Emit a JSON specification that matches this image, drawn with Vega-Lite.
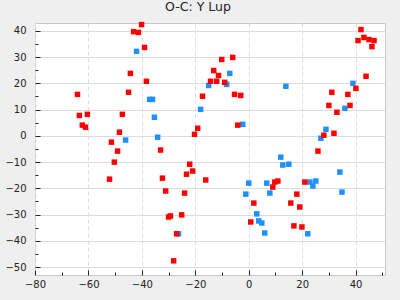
{
  "$schema": "https://vega.github.io/schema/vega-lite/v6.json",
  "width": 350,
  "height": 252,
  "autosize": "none",
  "padding": {"left": 35, "top": 23, "right": 15, "bottom": 25},
  "background": "#efefef",
  "title": {"text": "O-C: Y Lup", "font": "DejaVu Sans", "fontSize": 12.5, "fontWeight": "normal", "color": "#222222", "offset": 8, "dx": -12},
  "config": {
    "view": {"fill": "white", "stroke": "#c8c8c8", "strokeWidth": 1},
    "axis": {"labelFont": "DejaVu Sans", "labelFontSize": 10, "labelColor": "#222222", "tickColor": "#222222", "domain": false, "title": null, "labelFlush": false, "labelOverlap": false}
  },
  "data": {"values": [
    {"x": -42, "y": 32.2, "s": "b"}, {"x": -46.1, "y": -1.6, "s": "b"}, {"x": -37.1, "y": 13.9, "s": "b"}, {"x": -36, "y": 13.9, "s": "b"},
    {"x": -35.3, "y": 7.1, "s": "b"}, {"x": -34.1, "y": -0.5, "s": "b"}, {"x": -26.3, "y": -37.3, "s": "b"}, {"x": -18, "y": 10.1, "s": "b"},
    {"x": -15, "y": 19.2, "s": "b"}, {"x": -8.25, "y": 19.6, "s": "b"}, {"x": -7.1, "y": 23.8, "s": "b"}, {"x": -2.25, "y": 4.4, "s": "b"},
    {"x": -1.1, "y": -22.2, "s": "b"}, {"x": 0, "y": -18, "s": "b"}, {"x": 3, "y": -29.7, "s": "b"}, {"x": 3.75, "y": -32.4, "s": "b"},
    {"x": 4.9, "y": -33.2, "s": "b"}, {"x": 6, "y": -37, "s": "b"}, {"x": 6.75, "y": -18, "s": "b"}, {"x": 7.9, "y": -21.8, "s": "b"},
    {"x": 12, "y": -8.1, "s": "b"}, {"x": 12.75, "y": -11.1, "s": "b"}, {"x": 13.9, "y": 18.9, "s": "b"}, {"x": 15, "y": -10.8, "s": "b"},
    {"x": 22.1, "y": -37.3, "s": "b"}, {"x": 22.9, "y": -17.6, "s": "b"}, {"x": 24, "y": -19.1, "s": "b"}, {"x": 25.1, "y": -17.2, "s": "b"},
    {"x": 27, "y": -0.9, "s": "b"}, {"x": 28.9, "y": 2.5, "s": "b"}, {"x": 34.1, "y": -13.8, "s": "b"}, {"x": 34.9, "y": -21.4, "s": "b"},
    {"x": 36, "y": 10.5, "s": "b"}, {"x": 39, "y": 20, "s": "b"},
    {"x": -64.1, "y": 15.8, "s": "r"}, {"x": -63.4, "y": 7.8, "s": "r"}, {"x": -62.3, "y": 4.1, "s": "r"}, {"x": -61.1, "y": 3.3, "s": "r"},
    {"x": -60.4, "y": 8.2, "s": "r"}, {"x": -51.4, "y": -2.4, "s": "r"}, {"x": -52.1, "y": -16.5, "s": "r"}, {"x": -50.3, "y": -10, "s": "r"},
    {"x": -49.1, "y": -5.8, "s": "r"}, {"x": -48.4, "y": 1.4, "s": "r"}, {"x": -47.3, "y": 8.2, "s": "r"}, {"x": -45, "y": 16.6, "s": "r"},
    {"x": -44.3, "y": 23.8, "s": "r"}, {"x": -43.1, "y": 39.7, "s": "r"}, {"x": -41.3, "y": 39.4, "s": "r"}, {"x": -40.1, "y": 42.4, "s": "r"},
    {"x": -39, "y": 33.7, "s": "r"}, {"x": -38.3, "y": 20.8, "s": "r"}, {"x": -33, "y": -5.4, "s": "r"}, {"x": -32.3, "y": -16.1, "s": "r"},
    {"x": -31.1, "y": -21, "s": "r"}, {"x": -30, "y": -30.9, "s": "r"}, {"x": -29.3, "y": -30.5, "s": "r"}, {"x": -28.1, "y": -47.6, "s": "r"},
    {"x": -27, "y": -37.3, "s": "r"}, {"x": -25.1, "y": -30.1, "s": "r"}, {"x": -24, "y": -21.8, "s": "r"}, {"x": -23.3, "y": -14.6, "s": "r"},
    {"x": -22.1, "y": -10.8, "s": "r"}, {"x": -21, "y": -13.4, "s": "r"}, {"x": -20.3, "y": 0.6, "s": "r"}, {"x": -19.1, "y": 2.9, "s": "r"},
    {"x": -17.3, "y": 15.1, "s": "r"}, {"x": -16.1, "y": -16.8, "s": "r"}, {"x": -14.3, "y": 20.8, "s": "r"}, {"x": -13.1, "y": 24.9, "s": "r"},
    {"x": -12, "y": 20.8, "s": "r"}, {"x": -11.3, "y": 23, "s": "r"}, {"x": -10.1, "y": 29.1, "s": "r"}, {"x": -9, "y": 20.4, "s": "r"},
    {"x": -6, "y": 29.9, "s": "r"}, {"x": -5.3, "y": 15.8, "s": "r"}, {"x": -4.1, "y": 4.1, "s": "r"}, {"x": -3, "y": 15.4, "s": "r"},
    {"x": 0.75, "y": -32.8, "s": "r"}, {"x": 1.9, "y": -25.6, "s": "r"}, {"x": 9, "y": -19.5, "s": "r"}, {"x": 9.75, "y": -17.6, "s": "r"},
    {"x": 10.9, "y": -17.2, "s": "r"}, {"x": 15.75, "y": -25.6, "s": "r"}, {"x": 16.9, "y": -34.3, "s": "r"}, {"x": 18, "y": -22.2, "s": "r"},
    {"x": 19.1, "y": -27.1, "s": "r"}, {"x": 19.9, "y": -34.7, "s": "r"}, {"x": 21, "y": -17.6, "s": "r"}, {"x": 25.9, "y": -5.8, "s": "r"},
    {"x": 28.1, "y": 0.25, "s": "r"}, {"x": 30, "y": 11.6, "s": "r"}, {"x": 31.1, "y": 16.6, "s": "r"}, {"x": 31.9, "y": 1, "s": "r"},
    {"x": 33, "y": 9, "s": "r"}, {"x": 37.1, "y": 15.8, "s": "r"}, {"x": 37.9, "y": 11.6, "s": "r"}, {"x": 40.1, "y": 18.1, "s": "r"},
    {"x": 40.9, "y": 36.3, "s": "r"}, {"x": 42, "y": 40.5, "s": "r"}, {"x": 43.1, "y": 37.5, "s": "r"}, {"x": 43.9, "y": 22.7, "s": "r"},
    {"x": 45, "y": 36.7, "s": "r"}, {"x": 46.1, "y": 34, "s": "r"}, {"x": 46.9, "y": 36.3, "s": "r"}
  ]},
  "mark": {"type": "square", "size": 30, "filled": true, "opacity": 1},
  "encoding": {
    "x": {
      "field": "x", "type": "quantitative",
      "scale": {"domain": [-80, 51], "nice": false, "zero": false},
      "axis": {
        "values": [-80, -70, -60, -50, -40, -30, -20, -10, 0, 10, 20, 30, 40, 50],
        "labelExpr": "datum.value % 20 === 0 ? datum.label : ''",
        "tickSize": {"condition": {"test": "datum.value % 20 === 0", "value": -5}, "value": -3},
        "labelPadding": 9,
        "grid": true,
        "gridColor": "#dcdcdc",
        "gridDash": [4, 3],
        "gridOpacity": {"condition": {"test": "datum.value % 20 === 0", "value": 1}, "value": 0}
      }
    },
    "y": {
      "field": "y", "type": "quantitative",
      "scale": {"domain": [-53, 43], "nice": false, "zero": false},
      "axis": {
        "values": [-50, -45, -40, -35, -30, -25, -20, -15, -10, -5, 0, 5, 10, 15, 20, 25, 30, 35, 40],
        "labelExpr": "datum.value % 10 === 0 ? datum.label : ''",
        "tickSize": {"condition": {"test": "datum.value % 10 === 0", "value": -5}, "value": -3},
        "labelPadding": 14,
        "grid": true,
        "gridColor": "#dcdcdc",
        "gridOpacity": {"condition": {"test": "datum.value % 10 === 0", "value": 1}, "value": 0}
      }
    },
    "color": {"field": "s", "type": "nominal", "scale": {"domain": ["b", "r"], "range": ["#1e90ff", "#ff0000"]}, "legend": null}
  }
}
